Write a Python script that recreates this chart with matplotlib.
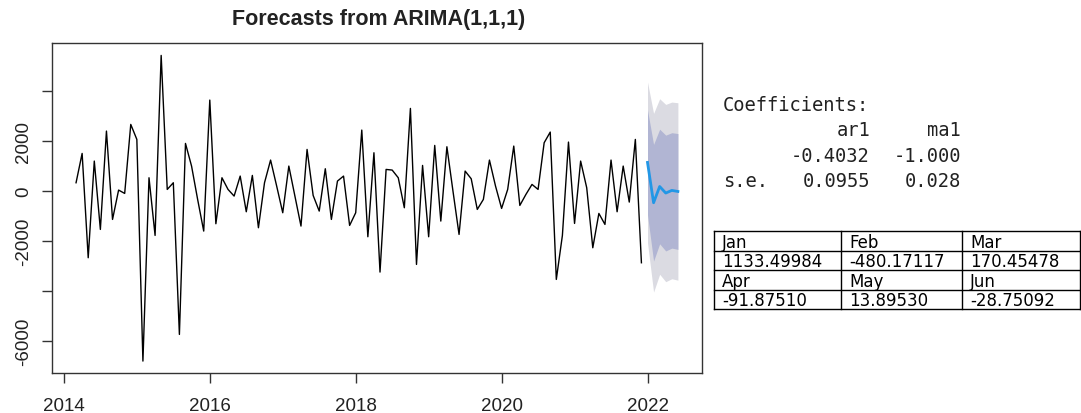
import matplotlib
matplotlib.use("Agg")
import matplotlib.pyplot as plt
import numpy as np

# ---------------- data ----------------
start_year = 2014
start_month = 3  # March 2014
series = [320, 1493, -2680, 1187, -1547, 2387, -1147, 27, -107, 2653,
          2053, -6813, 520, -1787, 5413, 53, 320, -5747, 1893, 987,
          -347, -1613, 3627, -1320, 520, 53, -213, 587, -840, 613,
          -1480, 320, 1227, 187, -880, 987, -213, -1413, 1653, -187,
          -813, 880, -1147, 387, 587, -1387, -880, 2427, -1840, 1520,
          -3253, 853, 827, 520, -680, 3293, -2947, 1013, -1840, 1813,
          -1213, 1760, -13, -1747, 787, 480, -747, -347, 1227, 187,
          -707, 53, 1787, -587, -147, 253, 53, 1920, 2347, -3547,
          -1787, 1947, -1307, 1187, 120, -2280, -907, -1347, 1227, -840,
          987, -453, 2053, -2880]

fc_months = ["Jan", "Feb", "Mar", "Apr", "May", "Jun"]
fc_values = ["1133.49984", "-480.17117", "170.45478", "-91.87510", "13.89530", "-28.75092"]
forecast = [1133.49984, -480.17117, 170.45478, -91.87510, 13.89530, -28.75092]
lo80 = [-967, -2813, -2122, -2408, -2294, -2346]
hi80 = [3233, 1853, 2462, 2224, 2322, 2288]
lo95 = [-2081, -4053, -3340, -3637, -3520, -3577]
hi95 = [4347, 3093, 3680, 3453, 3547, 3520]

coef_names = ["ar1", "ma1"]
coef_vals = ["-0.4032", "-1.000"]
coef_se = ["0.0955", "0.028"]

x_ticks = [2014, 2016, 2018, 2020, 2022]
y_ticks = [-6000, -4000, -2000, 0, 2000, 4000]
y_ticklabels = ["-6000", "", "-2000", "0", "2000", ""]

title = "Forecasts from ARIMA(1,1,1)"

# ---------------- figure ----------------
W, H = 1081, 414
fig = plt.figure(figsize=(W / 100, H / 100), dpi=100)
plt.rcParams['font.family'] = ['Liberation Sans', 'DejaVu Sans']

t = start_year + (start_month - 1 + np.arange(len(series))) / 12.0
tf = 2022 + np.arange(len(forecast)) / 12.0

L, R, T, B = 52, 702, 44, 374
ax = fig.add_axes([L / W, 1 - B / H, (R - L) / W, (B - T) / H])
ax.fill_between(tf, lo95, hi95, color="#DBDBE2", linewidth=0)
ax.fill_between(tf, lo80, hi80, color="#B1B5D3", linewidth=0)
ax.plot(t, series, color="black", linewidth=1.0)
ax.plot(tf, forecast, color="#2297E6", linewidth=2.0)

ax.set_xlim(2013.837, 2022.747)
ax.set_ylim(-7290, 5910)
ax.set_xticks(x_ticks)
ax.set_xticklabels([str(v) for v in x_ticks])
ax.set_yticks(y_ticks)
ax.set_yticklabels(y_ticklabels, rotation=90, va="center")
for s in ax.spines.values():
    s.set_color("#333333")
    s.set_linewidth(1.0)
ax.tick_params(axis="both", direction="out", length=7.5, width=1.0,
               color="#333333", labelsize=13.5, labelcolor="#222222")
ax.tick_params(axis="x", pad=9.5)
ax.tick_params(axis="y", pad=7)

fig.text(379 / W, 1 - 20 / H, title, ha="center", va="center",
         fontsize=15.5, fontweight="bold", color="#222222")

# ---------------- right panel: coefficients & table ----------------
ov = fig.add_axes([0, 0, 1, 1], facecolor="none")
ov.set_xlim(0, W)
ov.set_ylim(H, 0)
ov.axis("off")

mono = dict(family="DejaVu Sans Mono", fontsize=13.5, color="#222222", va="center")
ov.text(723, 106, "Coefficients:", ha="left", **mono)
ov.text(870, 131, coef_names[0], ha="right", **mono)
ov.text(961, 131, coef_names[1], ha="right", **mono)
ov.text(870, 157, coef_vals[0], ha="right", **mono)
ov.text(961, 157, coef_vals[1], ha="right", **mono)
ov.text(723, 182, "s.e.", ha="left", **mono)
ov.text(870, 182, coef_se[0], ha="right", **mono)
ov.text(961, 182, coef_se[1], ha="right", **mono)

col_x = [714, 841, 962, 1080]
row_y = [232, 251.5, 271, 290.5, 310]
for x in col_x:
    ov.plot([x, x], [row_y[0], row_y[-1]], color="black", linewidth=1.0)
for y in row_y:
    ov.plot([col_x[0], col_x[-1]], [y, y], color="black", linewidth=1.0)

cells = [fc_months[:3], fc_values[:3], fc_months[3:], fc_values[3:]]
for r, row in enumerate(cells):
    yc = (row_y[r] + row_y[r + 1]) / 2
    for c, txt in enumerate(row):
        ov.text(col_x[c] + 8, yc + 1, txt, ha="left", va="center",
                family="DejaVu Sans", fontsize=12, color="black")

fig.savefig("out.png", dpi=100)
